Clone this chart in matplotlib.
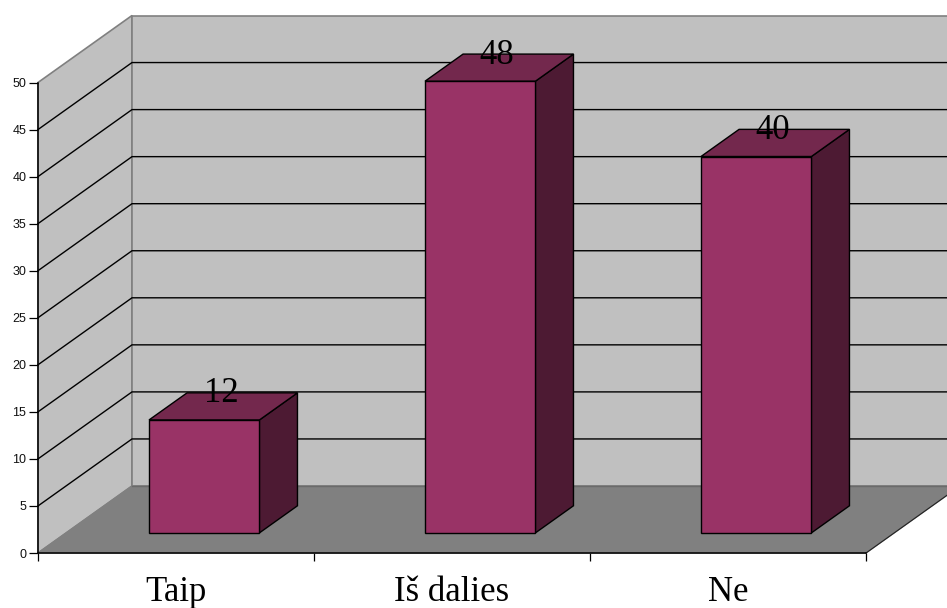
import matplotlib.pyplot as plt
from matplotlib.patches import Polygon

categories = ['Taip', 'Iš dalies', 'Ne']
values = [12, 48, 40]
y_ticks = [0, 5, 10, 15, 20, 25, 30, 35, 40, 45, 50]

# Oblique depth of the box, in data units
DX = 94 / 276
DY = 67 / 9.41

BAR_W = 0.4
D0, D1 = 0.3, 0.705

WALL = '#C0C0C0'
FLOOR = '#808080'
FRONT = '#993366'
TOP = '#73284D'
SIDE = '#4D1A33'


def pt(x, v, d=0.0):
    return (x + d * DX, v + d * DY)


def face(ax, corners, color, edge='black', lw=1.0, z=1):
    ax.add_patch(Polygon(corners, closed=True, facecolor=color, edgecolor=edge,
                         linewidth=lw, zorder=z, clip_on=False, joinstyle='miter'))


plt.rcParams['font.family'] = ['Liberation Serif', 'DejaVu Serif']

fig = plt.figure(figsize=(9.47, 6.08), dpi=100)
ax = fig.add_axes([38 / 947, 55 / 608, 828 / 947, 470.5 / 608])
ax.set_xlim(0, 3)
ax.set_ylim(0, 50)
ax.patch.set_visible(False)

# Walls and floor
face(ax, [pt(0, 0), pt(0, 0, 1), pt(0, 50, 1), pt(0, 50)], WALL, edge=FLOOR, lw=1.2)
face(ax, [pt(0, 0, 1), pt(3, 0, 1), pt(3, 50, 1), pt(0, 50, 1)], WALL, edge=FLOOR, lw=1.2)
face(ax, [pt(0, 0), pt(3, 0), pt(3, 0, 1), pt(0, 0, 1)], FLOOR, edge=FLOOR, lw=1.0, z=2)
ax.plot(*zip(pt(3, 0, 1), pt(0, 0, 1)), color='#6A6A6A', lw=1.0, zorder=2.5, clip_on=False)
ax.plot(*zip(pt(3, 0), pt(3, 0, 1)), color='#222222', lw=0.8, zorder=3, clip_on=False)

# Gridlines run along the side wall and across the back wall
for v in y_ticks[1:-1]:
    ax.plot(*zip(pt(0, v), pt(0, v, 1), pt(3, v, 1)), color='black', lw=1.0,
            zorder=1.5, clip_on=False, solid_joinstyle='miter')

# Bars
for i, (name, v) in enumerate(zip(categories, values)):
    x0 = i + 0.5 - BAR_W / 2
    x1 = i + 0.5 + BAR_W / 2
    face(ax, [pt(x1, 0, D0), pt(x1, 0, D1), pt(x1, v, D1), pt(x1, v, D0)], SIDE, z=4)
    face(ax, [pt(x0, v, D0), pt(x1, v, D0), pt(x1, v, D1), pt(x0, v, D1)], TOP, z=4)
    face(ax, [pt(x0, 0, D0), pt(x1, 0, D0), pt(x1, v, D0), pt(x0, v, D0)], FRONT, z=5)
    lx, ly = pt(i + 0.5, v, 0.5)
    ax.annotate(str(v), (lx, ly), xytext=(-1.5, 3), textcoords='offset points',
                ha='center', va='baseline', fontsize=25, color='black', zorder=6,
                annotation_clip=False)

# Axes
for side in ['top', 'right']:
    ax.spines[side].set_visible(False)
for side in ['left', 'bottom']:
    ax.spines[side].set_linewidth(1.1)
    ax.spines[side].set_zorder(3)

ax.set_yticks(y_ticks)
ax.tick_params(axis='y', length=6.5, width=0.9, pad=2, labelsize=9,
               labelcolor='#111111', labelfontfamily='Liberation Sans')
ax.set_xticks([0, 1, 2, 3])
ax.set_xticklabels([])
ax.tick_params(axis='x', which='major', length=6, width=0.9)
ax.set_xticks([0.5, 1.5, 2.5], minor=True)
ax.set_xticklabels(categories, minor=True, fontsize=25)
ax.tick_params(axis='x', which='minor', length=0, pad=16.5)

fig.savefig('out.png', dpi=100)
